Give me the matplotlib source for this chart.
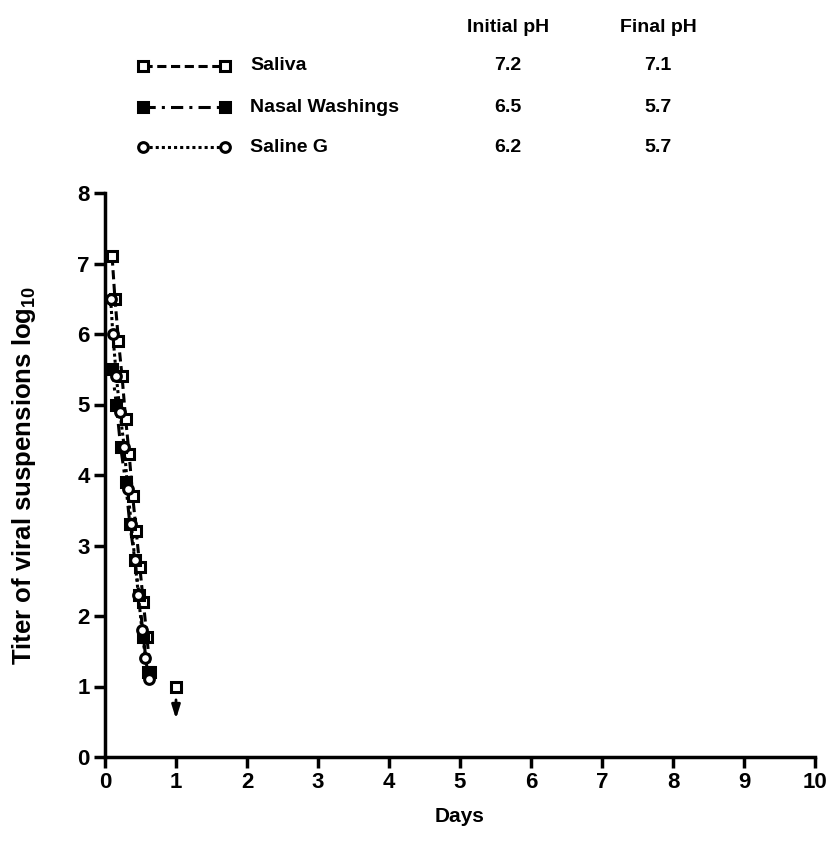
import matplotlib
matplotlib.use("Agg")
import matplotlib.pyplot as plt

plt.rcParams['font.family'] = ['Liberation Sans', 'DejaVu Sans']
plt.rcParams['font.weight'] = 'bold'
plt.rcParams['mathtext.fontset'] = 'custom'
plt.rcParams['mathtext.bf'] = 'Liberation Sans:bold'
plt.rcParams['mathtext.rm'] = 'Liberation Sans:bold'
plt.rcParams['mathtext.default'] = 'bf'

# Data (days, log10 titer)
saliva_x = [0.10, 0.14, 0.19, 0.24, 0.29, 0.34, 0.39, 0.44, 0.49, 0.54, 0.59, 0.64]
saliva_y = [7.1, 6.5, 5.9, 5.4, 4.8, 4.3, 3.7, 3.2, 2.7, 2.2, 1.7, 1.2]
saliva_last_x = [1.0]
saliva_last_y = [1.0]

nasal_x = [0.10, 0.16, 0.22, 0.29, 0.35, 0.42, 0.48, 0.54, 0.60]
nasal_y = [5.5, 5.0, 4.4, 3.9, 3.3, 2.8, 2.3, 1.7, 1.2]

saline_x = [0.08, 0.11, 0.16, 0.21, 0.27, 0.32, 0.37, 0.42, 0.47, 0.52, 0.57, 0.62]
saline_y = [6.5, 6.0, 5.4, 4.9, 4.4, 3.8, 3.3, 2.8, 2.3, 1.8, 1.4, 1.1]

series_names = ["Saliva", "Nasal Washings", "Saline G"]
initial_ph = ["7.2", "6.5", "6.2"]
final_ph = ["7.1", "5.7", "5.7"]

W, H = 831, 852
fig = plt.figure(figsize=(W / 100, H / 100), dpi=100)
ax = fig.add_axes([105 / W, 1 - 757 / H, (815 - 105) / W, (757 - 193) / H])

styles = [
    dict(linestyle=(0, (3, 1.5)), marker='s', markerfacecolor='white'),
    dict(linestyle=(0, (4, 2, 1, 2)), marker='s', markerfacecolor='black'),
    dict(linestyle=(0, (1, 1)), marker='o', markerfacecolor='white'),
]
common = dict(color='black', linewidth=2.2, markersize=7, markeredgewidth=2.2,
              markeredgecolor='black', clip_on=False)

ax.plot(saliva_x, saliva_y, **styles[0], **common)
ax.plot(saliva_last_x, saliva_last_y, linestyle='none', marker='s',
        markerfacecolor='white', markersize=7, markeredgewidth=2.2,
        markeredgecolor='black')
ax.plot(nasal_x, nasal_y, **styles[1], **common)
ax.plot(saline_x, saline_y, **styles[2], **common)

# below detection limit arrow
ax.annotate('', xy=(1.0, 0.5), xytext=(1.0, 0.85),
            arrowprops=dict(arrowstyle='-|>,head_width=0.25,head_length=0.8',
                            color='black', lw=2))

ax.set_xlim(0, 10)
ax.set_ylim(0, 8)
ax.set_xticks(range(0, 11))
ax.set_yticks(range(0, 9))
for s in ['top', 'right']:
    ax.spines[s].set_visible(False)
for s in ['left', 'bottom']:
    ax.spines[s].set_linewidth(2.5)
ax.tick_params(axis='both', direction='out', length=8, width=2.5,
               labelsize=16, pad=3)
for lab in ax.get_xticklabels() + ax.get_yticklabels():
    lab.set_fontweight('bold')

ax.set_xlabel("Days", fontsize=15, fontweight='bold', labelpad=10)
ax.set_ylabel(r"Titer of viral suspensions log$_{10}$", fontsize=18.5,
              fontweight='bold', labelpad=28)

# legend / pH table at the top
lax = fig.add_axes([0, 0, 1, 1], facecolor='none')
lax.set_xlim(0, W)
lax.set_ylim(H, 0)
lax.axis('off')

fs = 14
lax.text(508, 27, "Initial pH", ha='center', va='center', fontsize=fs, fontweight='bold')
lax.text(658, 27, "Final pH", ha='center', va='center', fontsize=fs, fontweight='bold')
row_y = [66, 107, 147]
for i, name in enumerate(series_names):
    y = row_y[i]
    st = dict(styles[i])
    lax.plot([143, 225], [y, y], markevery=[0, 1], **st,
             color='black', linewidth=2.2, markersize=7, markeredgewidth=2.2,
             markeredgecolor='black')
    lax.text(250, y, name, ha='left', va='center', fontsize=fs, fontweight='bold')
    lax.text(508, y, initial_ph[i], ha='center', va='center', fontsize=fs, fontweight='bold')
    lax.text(658, y, final_ph[i], ha='center', va='center', fontsize=fs, fontweight='bold')

fig.savefig("out.png", dpi=100)
